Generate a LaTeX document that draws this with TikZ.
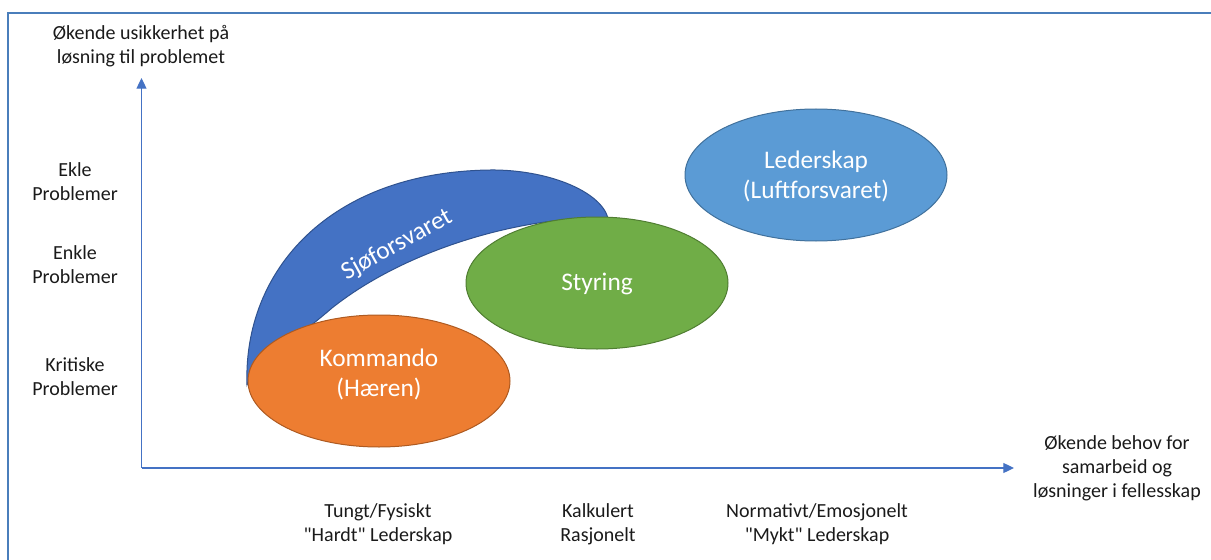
\documentclass[tikz,border=0pt]{standalone}
\usepackage{fontspec}
\setmainfont{Carlito}[Ligatures=TeXOff]
\usetikzlibrary{arrows.meta,shapes.geometric}
\definecolor{framecol}{HTML}{4A7EBB}
\definecolor{axiscol}{HTML}{4472C4}
\definecolor{navyfill}{HTML}{4472C4}
\definecolor{navyline}{HTML}{2F528F}
\definecolor{orfill}{HTML}{ED7D31}
\definecolor{orline}{HTML}{AE5A21}
\definecolor{grfill}{HTML}{70AD47}
\definecolor{grline}{HTML}{507E32}
\definecolor{lbfill}{HTML}{5B9BD5}
\definecolor{lbline}{HTML}{41719C}
\definecolor{txt}{HTML}{1A1A1A}
\tikzset{
  axislabel/.style={align=center, text=txt, font=\fontsize{15pt}{18pt}\selectfont, inner sep=0pt},
  blobtext/.style={align=center, text=white, font=\fontsize{19pt}{22.5pt}\selectfont, inner sep=0pt},
  blob/.style={ellipse, minimum width=196.5pt, minimum height=99pt, inner sep=0pt, line width=0.75pt},
  axisline/.style={draw=axiscol, line width=0.9pt, -{Triangle[length=8pt,width=7.5pt]}},
}
\begin{document}
\begin{tikzpicture}[x=0.75pt,y=-0.75pt]
\useasboundingbox (0,0) rectangle (1211,560);
% frame
\draw[framecol, line width=1.6pt] (8,570) -- (8,13) -- (1220,13);
% axes
\coordinate (O) at (141.5,468);
\coordinate (Ytip) at (141.5,78);
\coordinate (Xtip) at (1014,468);
\draw[axisline] (O) -- (Ytip);
\draw[axisline] (O) -- (Xtip);
% crescent
\coordinate (A) at (247,385);
\coordinate (T) at (490,170);
\coordinate (B) at (608,218);
\coordinate (M) at (332,308);
\draw[fill=navyfill, draw=navyline, line width=0.75pt]
  (A) .. controls (243,270) and (330,172) .. (T)
      .. controls (545,169.3) and (600,190) .. (B)
      .. controls (520,216) and (405,250) .. (M)
      .. controls (295,340) and (255,365) .. (A) -- cycle;
\node[blobtext, rotate=29] (sjo) at (397,245) {Sjøforsvaret};
% ellipses
\node[blob, fill=orfill, draw=orline] (kom) at (379,381) {};
\node[blobtext] (komt) at (379,374) {Kommando\\(Hæren)};
\node[blob, fill=grfill, draw=grline] (sty) at (597,283) {};
\node[blobtext] (styt) at (597,284) {Styring};
\node[blob, fill=lbfill, draw=lbline] (led) at (816,175) {};
\node[blobtext] (ledt) at (816,176) {Lederskap\\(Luftforsvaret)};
% labels
\node[axislabel] (ylab) at (141,46) {Økende usikkerhet på\\løsning til problemet};
\node[axislabel] (xlab) at (1117,468) {Økende behov for\\samarbeid og\\løsninger i fellesskap};
\node[axislabel] (ekle) at (75,181.5) {Ekle\\Problemer};
\node[axislabel] (enkle) at (75,264.5) {Enkle\\Problemer};
\node[axislabel] (krit) at (75,376.5) {Kritiske\\Problemer};
\node[axislabel] (b1) at (378,524) {Tungt/Fysiskt\\"Hardt" Lederskap};
\node[axislabel] (b2) at (598,524) {Kalkulert\\Rasjonelt};
\node[axislabel] (b3) at (817,524) {Normativt/Emosjonelt\\"Mykt" Lederskap};
\end{tikzpicture}
\end{document}
